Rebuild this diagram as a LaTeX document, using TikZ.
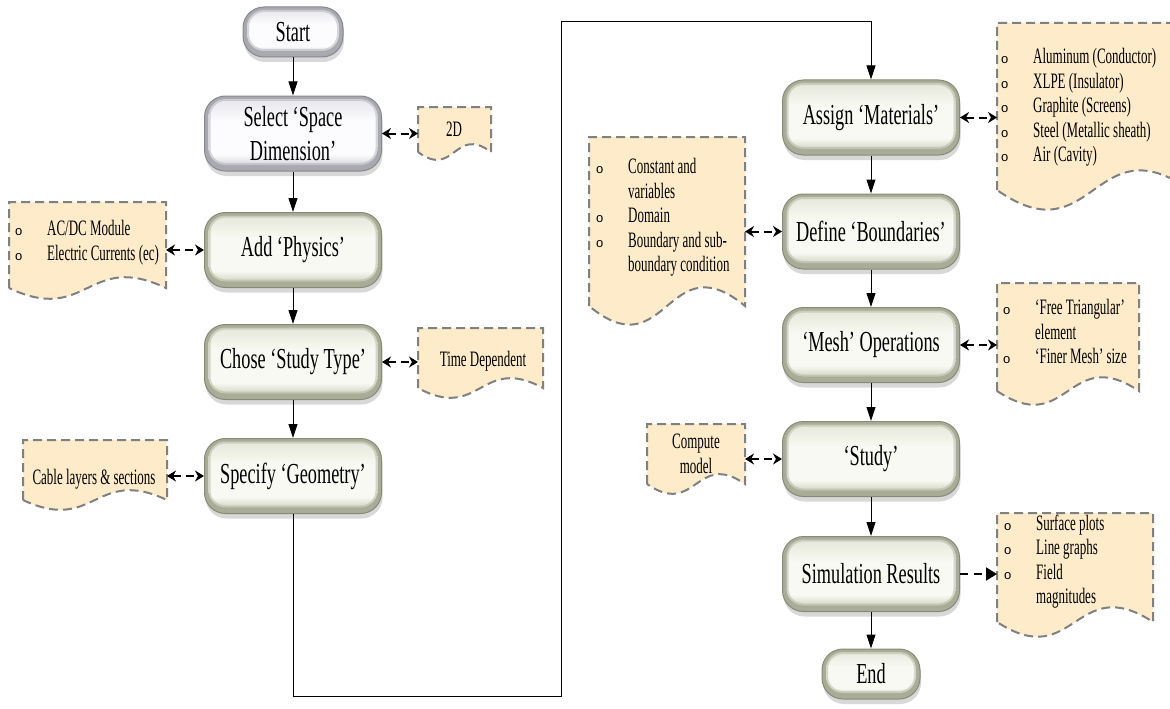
\documentclass[tikz,border=0pt]{standalone}
\usepackage{fontspec}
\setmainfont{Liberation Serif}[FakeStretch=0.63]
\newfontfamily\docfam{Liberation Serif}[FakeStretch=0.59]
\newfontfamily\bulfont{Liberation Sans}
\usetikzlibrary{arrows.meta,shadows,fit}
\definecolor{gEdge}{HTML}{A9AD98}
\definecolor{gLine}{HTML}{868A76}
\definecolor{gTop}{HTML}{E2E5D6}
\definecolor{gMid}{HTML}{F8F9F2}
\definecolor{gBot}{HTML}{BCC0AA}
\definecolor{sEdge}{HTML}{A9A9B0}
\definecolor{sLine}{HTML}{88888F}
\definecolor{sTop}{HTML}{E4E4EA}
\definecolor{sMid}{HTML}{FCFCFE}
\definecolor{sBot}{HTML}{C0C0C7}
\definecolor{docFill}{HTML}{FDEBC9}
\definecolor{docLine}{HTML}{808080}
\pgfdeclareverticalshading{gpill}{100bp}{color(0bp)=(gBot); color(25bp)=(gBot); color(36bp)=(gMid); color(58bp)=(gMid); color(75bp)=(gTop); color(100bp)=(gTop)}
\pgfdeclareverticalshading{spill}{100bp}{color(0bp)=(sBot); color(25bp)=(sBot); color(36bp)=(sMid); color(58bp)=(sMid); color(75bp)=(sTop); color(100bp)=(sTop)}
\newcommand{\bxfont}{\fontsize{29}{34}\selectfont}
\newcommand{\dcfont}{\docfam\fontsize{22}{24.5}\selectfont}
\newcommand{\bul}{\makebox[32pt][l]{\bulfont\fontsize{13}{13}\selectfont o}}
\newcommand{\ind}{\hspace*{32pt}}
\newcommand{\docshape}[6]{%
  \coordinate (#1-a) at (#2,#3);
  \coordinate (#1-b) at (#4,#5);
  \node[fit=(#1-a)(#1-b), inner sep=0pt, outer sep=0pt] (#1) {};
  \draw[docstyle] (#2,#5) -- (#2,#3) -- (#4,#3) -- (#4,#5)
     .. controls ({(#2+#4)/2},{#5-3.4*#6}) and ({(#2+#4)/2},{#5+3.4*#6}) .. (#2,#5) -- cycle;
}
\tikzset{
  pillpic/.style 2 args={path picture={
      \shade[rounded corners=17pt, shading=#1]
        ([shift={(4pt,-3pt)}]path picture bounding box.north west) rectangle
        ([shift={(-4pt,6pt)}]path picture bounding box.south east);
      \draw[#2, opacity=0.45, line width=4pt, rounded corners=17pt]
        ([shift={(4pt,-3pt)}]path picture bounding box.north west) rectangle
        ([shift={(-4pt,6pt)}]path picture bounding box.south east);}},
  flowbox/.style={rounded corners=21pt, minimum width=177pt, minimum height=75pt,
    align=center, font=\bxfont, fill=gEdge, draw=gLine, line width=1pt,
    drop shadow={shadow xshift=1pt, shadow yshift=-5pt, opacity=0.3},
    pillpic={gpill}{gEdge}},
  graybox/.style={flowbox, fill=sEdge, draw=sLine, pillpic={spill}{sEdge}},
  docstyle/.style={fill=docFill, draw=docLine, line width=2pt, dash pattern=on 9pt off 5pt},
  dtext/.style={font=\dcfont, align=left, inner sep=0pt},
  flowarrow/.style={draw=black, line width=1pt, -{Triangle[length=14pt,width=9pt]}},
  sidearrow/.style={draw=black, line width=2pt, dash pattern=on 8pt off 5pt,
    {Stealth[length=9pt,width=11pt]}-{Stealth[length=9pt,width=11pt]}},
  resarrow/.style={draw=black, line width=2pt, dash pattern=on 8pt off 6pt,
    -{Triangle[length=11pt,width=13pt]}}
}
\begin{document}
\begin{tikzpicture}[x=1pt,y=-1pt]
\useasboundingbox (0,0) rectangle (1170,709);
\clip (0,0) rectangle (1170,709);
\fill[white] (0,0) rectangle (1170,709);

% documents
\docshape{d2d}{418}{107}{491}{152}{8}
\docshape{dphys}{9}{202}{166}{288}{11}
\docshape{dtime}{418}{328}{543}{388}{10}
\docshape{dgeo}{23}{440}{167}{500}{10}
\docshape{dmat}{997}{23}{1190}{190}{20}
\docshape{dbnd}{589}{137}{745}{306}{19}
\docshape{dmesh}{997}{283}{1139}{391}{14}
\docshape{dcomp}{647}{424}{745}{484}{10}
\docshape{dres}{997}{513}{1153}{622}{15}

\node[dtext] (t2d) at (454,129) {2D};
\node[dtext, anchor=north west] (tphys) at (15,220.5) {\bul AC/DC Module\\\bul Electric Currents (ec)};
\node[dtext] (ttime) at (483,361) {Time Dependent};
\node[dtext] (tgeo) at (94,479) {Cable layers \& sections};
\node[dtext, anchor=north west] (tmat) at (1001,48.5) {\bul Aluminum (Conductor)\\\bul XLPE (Insulator)\\\bul Graphite (Screens)\\\bul Steel (Metallic sheath)\\\bul Air (Cavity)};
\node[dtext, anchor=north west] (tbnd) at (596,158.5) {\bul Constant and\\\ind variables\\\bul Domain\\\bul Boundary and sub-\\\ind boundary condition};
\node[dtext, anchor=north west] (tmesh) at (1003,299.5) {\bul ‘Free Triangular’\\\ind element\\\bul ‘Finer Mesh’ size};
\node[dtext, align=center] (tcomp) at (696,454) {Compute\\model};
\node[dtext, anchor=north west] (tres) at (1004,514.5) {\bul Surface plots\\\bul Line graphs\\\bul Field\\\ind magnitudes};

% process boxes
\node[graybox, minimum width=100pt, minimum height=50pt] (start) at (293,32) {Start};
\node[graybox] (select) at (293,133.5) {Select ‘Space\\Dimension’};
\node[flowbox] (physics) at (293,250) {Add ‘Physics’};
\node[flowbox] (studytype) at (293,362) {Chose ‘Study Type’};
\node[flowbox] (geometry) at (293,476) {Specify ‘Geometry’};
\node[flowbox] (materials) at (871,117.5) {Assign ‘Materials’};
\node[flowbox] (boundaries) at (871,231.5) {Define ‘Boundaries’};
\node[flowbox] (mesh) at (871,345) {‘Mesh’ Operations};
\node[flowbox] (study) at (871,459) {‘Study’};
\node[flowbox] (results) at (871,574) {Simulation Results};
\node[flowbox, minimum width=98pt, minimum height=50pt] (end) at (871,674) {End};

% main flow
\draw[flowarrow] (start) -- (select);
\draw[flowarrow] (select) -- (physics);
\draw[flowarrow] (physics) -- (studytype);
\draw[flowarrow] (studytype) -- (geometry);
\coordinate (lr1) at (561,696);
\coordinate (lr2) at (871,22);
\draw[flowarrow] (geometry.south) |- (lr1) |- (lr2) -- (materials.north);
\draw[flowarrow] (materials) -- (boundaries);
\draw[flowarrow] (boundaries) -- (mesh);
\draw[flowarrow] (mesh) -- (study);
\draw[flowarrow] (study) -- (results);
\draw[flowarrow] (results) -- (end);

% side links
\draw[sidearrow] (select.east) -- (d2d.west |- select.east);
\draw[sidearrow] (dphys.east |- physics.west) -- (physics.west);
\draw[sidearrow] (studytype.east) -- (dtime.west |- studytype.east);
\draw[sidearrow] (dgeo.east |- geometry.west) -- (geometry.west);
\draw[sidearrow] (materials.east) -- (dmat.west |- materials.east);
\draw[sidearrow] (dbnd.east |- boundaries.west) -- (boundaries.west);
\draw[sidearrow] (mesh.east) -- (dmesh.west |- mesh.east);
\draw[sidearrow] (dcomp.east |- study.west) -- (study.west);
\draw[resarrow] (results.east) -- (dres.west |- results.east);
\end{tikzpicture}
\end{document}
